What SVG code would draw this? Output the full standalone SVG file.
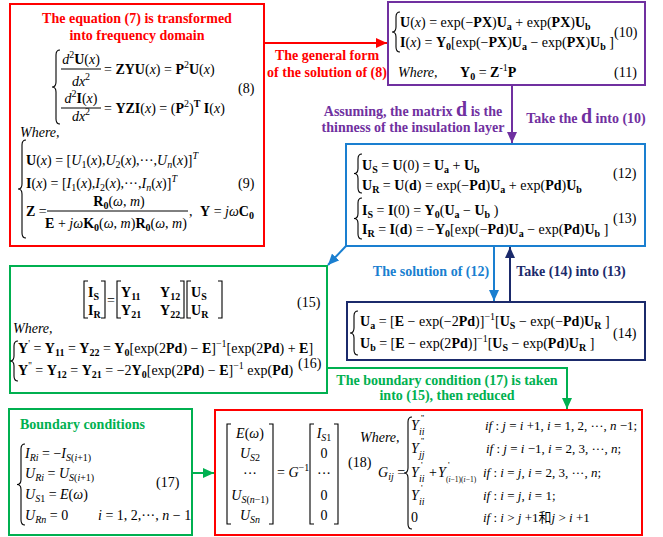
<svg xmlns="http://www.w3.org/2000/svg" width="663" height="537" viewBox="0 0 663 537">
<defs>
<style>
.t{font-family:"Liberation Serif","Times New Roman","Noto Sans CJK SC",serif;font-size:14px;fill:#000}
.c{font-size:13px}
.b{font-weight:bold}
.i{font-style:italic}
.s{font-size:10px}
.sp{font-size:9px}
.ss{font-size:7.5px}
.lb{font-family:"Liberation Serif","Times New Roman",serif;font-size:14px;font-weight:bold}
.big{font-size:20px}
.box{fill:#fff;stroke-width:2}
.dl{fill:none;stroke:#000;stroke-width:1.1}
.fr{stroke:#000;stroke-width:1}
.conn{fill:none;stroke-width:2}
</style>
<marker id="aR" markerUnits="userSpaceOnUse" markerWidth="12" markerHeight="10" refX="11" refY="5" orient="auto"><path d="M0,0 L11,5 L0,10 z" fill="#FF0000"/></marker>
<marker id="aP" markerUnits="userSpaceOnUse" markerWidth="12" markerHeight="10" refX="11" refY="5" orient="auto"><path d="M0,0 L11,5 L0,10 z" fill="#7030A0"/></marker>
<marker id="aB" markerUnits="userSpaceOnUse" markerWidth="12" markerHeight="10" refX="11" refY="5" orient="auto"><path d="M0,0 L11,5 L0,10 z" fill="#1a7fd0"/></marker>
<marker id="aN" markerUnits="userSpaceOnUse" markerWidth="12" markerHeight="10" refX="11" refY="5" orient="auto"><path d="M0,0 L11,5 L0,10 z" fill="#1B2A6B"/></marker>
<marker id="aG" markerUnits="userSpaceOnUse" markerWidth="12" markerHeight="10" refX="11" refY="5" orient="auto"><path d="M0,0 L11,5 L0,10 z" fill="#00B050"/></marker>
</defs>
<rect x="0" y="0" width="663" height="537" fill="#fff"/>

<g id="n1">
<rect class="box" x="10" y="4" width="254" height="242" stroke="#FF0000"/>
<text class="lb" x="137" y="23" text-anchor="middle" fill="#FF0000">The equation (7) is transformed</text>
<text class="lb" x="137" y="40" text-anchor="middle" fill="#FF0000">into frequency domain</text>
<path class="dl" d="M60,50 Q56,50 56,55 L56,82 Q56,87 52,87 Q56,87 56,92 L56,119 Q56,124 60,124"/>
<text class="t" x="81" y="64" text-anchor="middle"><tspan class="i">d</tspan><tspan class="s" dy="-6">2</tspan><tspan class="b" dy="6">U</tspan>(<tspan class="i">x</tspan>)</text>
<line class="fr" x1="61" y1="69" x2="101" y2="69"/>
<text class="t" x="81" y="86" text-anchor="middle"><tspan class="i">dx</tspan><tspan class="s" dy="-6">2</tspan></text>
<text class="t" x="104" y="74">= <tspan class="b">ZYU</tspan>(<tspan class="i">x</tspan>) = <tspan class="b">P</tspan><tspan class="s" dy="-6">2</tspan><tspan class="b" dy="6">U</tspan>(<tspan class="i">x</tspan>)</text>
<text class="t" x="81" y="103" text-anchor="middle"><tspan class="i">d</tspan><tspan class="s" dy="-6">2</tspan><tspan class="b" dy="6">I</tspan>(<tspan class="i">x</tspan>)</text>
<line class="fr" x1="61" y1="108" x2="101" y2="108"/>
<text class="t" x="81" y="121" text-anchor="middle"><tspan class="i">dx</tspan><tspan class="s" dy="-6">2</tspan></text>
<text class="t" x="104" y="113">= <tspan class="b">YZI</tspan>(<tspan class="i">x</tspan>) = (<tspan class="b">P</tspan><tspan class="s" dy="-6">2</tspan><tspan dy="6">)</tspan><tspan class="s b" dy="-6">T</tspan><tspan class="b" dy="6"> I</tspan>(<tspan class="i">x</tspan>)</text>
<text class="t" x="238" y="93">(8)</text>
<text class="t i" x="20" y="137">Where,</text>
<path class="dl" d="M26,140 Q22,140 22,145 L22,184 Q22,189 18,189 Q22,189 22,194 L22,233 Q22,238 26,238"/>
<text class="t" x="26" y="165"><tspan class="b">U</tspan>(<tspan class="i">x</tspan>) = [<tspan class="i">U</tspan><tspan class="s" dy="3">1</tspan><tspan dy="-3">(</tspan><tspan class="i">x</tspan>),<tspan class="i">U</tspan><tspan class="s" dy="3">2</tspan><tspan dy="-3">(</tspan><tspan class="i">x</tspan>),···,<tspan class="i">U</tspan><tspan class="s i" dy="3">n</tspan><tspan dy="-3">(</tspan><tspan class="i">x</tspan>)]<tspan class="s i" dy="-6">T</tspan></text>
<text class="t" x="26" y="188"><tspan class="b">I</tspan>(<tspan class="i">x</tspan>) = [<tspan class="i">I</tspan><tspan class="s" dy="3">1</tspan><tspan dy="-3">(</tspan><tspan class="i">x</tspan>),<tspan class="i">I</tspan><tspan class="s" dy="3">2</tspan><tspan dy="-3">(</tspan><tspan class="i">x</tspan>),···,<tspan class="i">I</tspan><tspan class="s i" dy="3">n</tspan><tspan dy="-3">(</tspan><tspan class="i">x</tspan>)]<tspan class="s i" dy="-6">T</tspan></text>
<text class="t" x="238" y="188">(9)</text>
<text class="t" x="26" y="216"><tspan class="b">Z</tspan> =</text>
<text class="t" x="119" y="206" text-anchor="middle"><tspan class="b">R</tspan><tspan class="s b" dy="3">0</tspan><tspan dy="-3">(</tspan><tspan class="i">ω</tspan>, <tspan class="i">m</tspan>)</text>
<line class="fr" x1="47" y1="211" x2="188" y2="211"/>
<text class="t" x="116" y="228" text-anchor="middle"><tspan class="b">E</tspan> + <tspan class="i">jω</tspan><tspan class="b">K</tspan><tspan class="s b" dy="3">0</tspan><tspan dy="-3">(</tspan><tspan class="i">ω</tspan>, <tspan class="i">m</tspan>)<tspan class="b">R</tspan><tspan class="s b" dy="3">0</tspan><tspan dy="-3">(</tspan><tspan class="i">ω</tspan>, <tspan class="i">m</tspan>)</text>
<text class="t" x="189" y="216">,</text>
<text class="t" x="200" y="216"><tspan class="b">Y</tspan>  =  <tspan class="i">jω</tspan><tspan class="b">C</tspan><tspan class="s b" dy="3">0</tspan></text>
</g>

<g id="n2">
<rect class="box" x="388" y="2" width="257" height="83" stroke="#7030A0"/>
<path class="dl" d="M400,12 Q396,12 396,17 L396,27 Q396,32 392,32 Q396,32 396,37 L396,47 Q396,52 400,52"/>
<text class="t" x="400" y="27"><tspan class="b">U</tspan>(<tspan class="i">x</tspan>) = exp(−<tspan class="b">PX</tspan>)<tspan class="b">U</tspan><tspan class="s b" dy="3">a</tspan><tspan dy="-3"> + exp(</tspan><tspan class="b">PX</tspan>)<tspan class="b">U</tspan><tspan class="s b" dy="3">b</tspan></text>
<text class="t" x="400" y="47"><tspan class="b">I</tspan>(<tspan class="i">x</tspan>) = <tspan class="b">Y</tspan><tspan class="s b" dy="3">0</tspan><tspan dy="-3">[exp(−</tspan><tspan class="b">PX</tspan>)<tspan class="b">U</tspan><tspan class="s b" dy="3">a</tspan><tspan dy="-3"> − exp(</tspan><tspan class="b">PX</tspan>)<tspan class="b">U</tspan><tspan class="s b" dy="3">b</tspan><tspan dy="-3"> ]</tspan></text>
<text class="t" x="614" y="37">(10)</text>
<text class="t i" x="398" y="77">Where,</text>
<text class="t" x="460" y="77"><tspan class="b">Y</tspan><tspan class="s b" dy="3">0</tspan><tspan dy="-3"> = </tspan><tspan class="b">Z</tspan><tspan class="s" dy="-6">-1</tspan><tspan class="b" dy="6">P</tspan></text>
<text class="t" x="614" y="77">(11)</text>
</g>

<g id="n3">
<rect class="box" x="346" y="144" width="299" height="102" stroke="#1a7fd0"/>
<path class="dl" d="M362,154 Q358,154 358,159 L358,168.5 Q358,173.5 354,173.5 Q358,173.5 358,178.5 L358,188 Q358,193 362,193"/>
<path class="dl" d="M362,198 Q358,198 358,203 L358,213.5 Q358,218.5 354,218.5 Q358,218.5 358,223.5 L358,234 Q358,239 362,239"/>
<text class="t" x="362" y="170"><tspan class="b">U</tspan><tspan class="s b" dy="3">S</tspan><tspan dy="-3"> = </tspan><tspan class="b">U</tspan>(0) = <tspan class="b">U</tspan><tspan class="s b" dy="3">a</tspan><tspan dy="-3"> + </tspan><tspan class="b">U</tspan><tspan class="s b" dy="3">b</tspan></text>
<text class="t" x="362" y="190"><tspan class="b">U</tspan><tspan class="s b" dy="3">R</tspan><tspan dy="-3"> = </tspan><tspan class="b">U</tspan>(<tspan class="b">d</tspan>) = exp(−<tspan class="b">Pd</tspan>)<tspan class="b">U</tspan><tspan class="s b" dy="3">a</tspan><tspan dy="-3"> + exp(</tspan><tspan class="b">Pd</tspan>)<tspan class="b">U</tspan><tspan class="s b" dy="3">b</tspan></text>
<text class="t" x="613" y="178">(12)</text>
<text class="t" x="362" y="215"><tspan class="b">I</tspan><tspan class="s b" dy="3">S</tspan><tspan dy="-3"> = </tspan><tspan class="b">I</tspan>(0) = <tspan class="b">Y</tspan><tspan class="s b" dy="3">0</tspan><tspan dy="-3">(</tspan><tspan class="b">U</tspan><tspan class="s b" dy="3">a</tspan><tspan dy="-3"> − </tspan><tspan class="b">U</tspan><tspan class="s b" dy="3">b</tspan><tspan dy="-3"> )</tspan></text>
<text class="t" x="362" y="234"><tspan class="b">I</tspan><tspan class="s b" dy="3">R</tspan><tspan dy="-3"> = </tspan><tspan class="b">I</tspan>(<tspan class="b">d</tspan>) = −<tspan class="b">Y</tspan><tspan class="s b" dy="3">0</tspan><tspan dy="-3">[exp(−</tspan><tspan class="b">Pd</tspan>)<tspan class="b">U</tspan><tspan class="s b" dy="3">a</tspan><tspan dy="-3"> − exp(</tspan><tspan class="b">Pd</tspan>)<tspan class="b">U</tspan><tspan class="s b" dy="3">b</tspan><tspan dy="-3"> ]</tspan></text>
<text class="t" x="613" y="223">(13)</text>
</g>

<g id="n4">
<rect class="box" x="347" y="302" width="298" height="58" stroke="#1B2A6B"/>
<path class="dl" d="M358,311 Q354,311 354,316 L354,328 Q354,333 350,333 Q354,333 354,338 L354,350 Q354,355 358,355"/>
<text class="t" x="360" y="326"><tspan class="b">U</tspan><tspan class="s b" dy="3">a</tspan><tspan dy="-3"> = [</tspan><tspan class="b">E</tspan> − exp(−2<tspan class="b">Pd</tspan>)]<tspan class="s" dy="-6">−1</tspan><tspan dy="6">[</tspan><tspan class="b">U</tspan><tspan class="s b" dy="3">S</tspan><tspan dy="-3"> − exp(−</tspan><tspan class="b">Pd</tspan>)<tspan class="b">U</tspan><tspan class="s b" dy="3">R</tspan><tspan dy="-3"> ]</tspan></text>
<text class="t" x="360" y="348"><tspan class="b">U</tspan><tspan class="s b" dy="3">b</tspan><tspan dy="-3"> = [</tspan><tspan class="b">E</tspan> − exp(2<tspan class="b">Pd</tspan>)]<tspan class="s" dy="-6">−1</tspan><tspan dy="6">[</tspan><tspan class="b">U</tspan><tspan class="s b" dy="3">S</tspan><tspan dy="-3"> − exp(</tspan><tspan class="b">Pd</tspan>)<tspan class="b">U</tspan><tspan class="s b" dy="3">R</tspan><tspan dy="-3"> ]</tspan></text>
<text class="t" x="613" y="338">(14)</text>
</g>

<g id="n5">
<rect class="box" x="10" y="266" width="317" height="127" stroke="#00B050"/>
<path class="dl" d="M88,281 L84,281 L84,318 L88,318 M101,281 L105,281 L105,318 L101,318"/>
<path class="dl" d="M121,281 L117,281 L117,318 L121,318 M180,281 L184,281 L184,318 L180,318"/>
<path class="dl" d="M191,281 L187,281 L187,318 L191,318 M218,281 L222,281 L222,318 L218,318"/>
<text class="t" x="88" y="297"><tspan class="b">I</tspan><tspan class="s b" dy="3">S</tspan></text>
<text class="t" x="88" y="315"><tspan class="b">I</tspan><tspan class="s b" dy="3">R</tspan></text>
<text class="t" x="107" y="305">=</text>
<text class="t" x="121" y="297"><tspan class="b">Y</tspan><tspan class="s b" dy="3">11</tspan></text>
<text class="t" x="160" y="297"><tspan class="b">Y</tspan><tspan class="s b" dy="3">12</tspan></text>
<text class="t" x="121" y="315"><tspan class="b">Y</tspan><tspan class="s b" dy="3">21</tspan></text>
<text class="t" x="160" y="315"><tspan class="b">Y</tspan><tspan class="s b" dy="3">22</tspan></text>
<text class="t" x="191" y="297"><tspan class="b">U</tspan><tspan class="s b" dy="3">S</tspan></text>
<text class="t" x="191" y="315"><tspan class="b">U</tspan><tspan class="s b" dy="3">R</tspan></text>
<text class="t" x="297" y="307">(15)</text>
<text class="t i" x="13" y="333">Where,</text>
<path class="dl" d="M18,341 Q14,341 14,346 L14,356 Q14,361 10,361 Q14,361 14,366 L14,376 Q14,381 18,381"/>
<text class="t" x="18" y="353"><tspan class="b">Y</tspan><tspan class="s" dy="-6">'</tspan><tspan dy="6"> = </tspan><tspan class="b">Y</tspan><tspan class="s b" dy="3">11</tspan><tspan dy="-3"> = </tspan><tspan class="b">Y</tspan><tspan class="s b" dy="3">22</tspan><tspan dy="-3"> = </tspan><tspan class="b">Y</tspan><tspan class="s b" dy="3">0</tspan><tspan dy="-3">[exp(2</tspan><tspan class="b">Pd</tspan>) − <tspan class="b">E</tspan>]<tspan class="s" dy="-6">−1</tspan><tspan dy="6">[exp(2</tspan><tspan class="b">Pd</tspan>) + <tspan class="b">E</tspan>]</text>
<text class="t" x="18" y="375"><tspan class="b">Y</tspan><tspan class="s" dy="-6">''</tspan><tspan dy="6"> = </tspan><tspan class="b">Y</tspan><tspan class="s b" dy="3">12</tspan><tspan dy="-3"> = </tspan><tspan class="b">Y</tspan><tspan class="s b" dy="3">21</tspan><tspan dy="-3"> = −2</tspan><tspan class="b">Y</tspan><tspan class="s b" dy="3">0</tspan><tspan dy="-3">[exp(2</tspan><tspan class="b">Pd</tspan>) − <tspan class="b">E</tspan>]<tspan class="s" dy="-6">−1</tspan><tspan dy="6"> exp(</tspan><tspan class="b">Pd</tspan>)</text>
<text class="t" x="298" y="368">(16)</text>
</g>

<g id="n6">
<rect class="box" x="9" y="409" width="183" height="126" stroke="#00B050"/>
<text class="lb" x="20" y="429" fill="#00B050">Boundary conditions</text>
<path class="dl" d="M25,444 Q21,444 21,449 L21,479.5 Q21,484.5 17,484.5 Q21,484.5 21,489.5 L21,520 Q21,525 25,525"/>
<text class="t" x="25" y="458"><tspan class="i">I</tspan><tspan class="s i" dy="3">Ri</tspan><tspan dy="-3"> = −</tspan><tspan class="i">I</tspan><tspan class="s" dy="3"><tspan class="i">S</tspan>(<tspan class="i">i</tspan>+1)</tspan></text>
<text class="t" x="25" y="478"><tspan class="i">U</tspan><tspan class="s i" dy="3">Ri</tspan><tspan dy="-3"> = </tspan><tspan class="i">U</tspan><tspan class="s" dy="3"><tspan class="i">S</tspan>(<tspan class="i">i</tspan>+1)</tspan></text>
<text class="t" x="25" y="499"><tspan class="i">U</tspan><tspan class="s" dy="3"><tspan class="i">S</tspan>1</tspan><tspan dy="-3"> = </tspan><tspan class="i">E</tspan>(<tspan class="i">ω</tspan>)</text>
<text class="t" x="25" y="520"><tspan class="i">U</tspan><tspan class="s i" dy="3">Rn</tspan><tspan dy="-3"> = 0</tspan></text>
<text class="t" x="98" y="520"><tspan class="i">i</tspan> = 1, 2,···, <tspan class="i">n</tspan> − 1</text>
<text class="t" x="156" y="487">(17)</text>
</g>

<g id="n7">
<rect class="box" x="215" y="410" width="427" height="125" stroke="#FF0000"/>
<path class="dl" d="M231,424 L227,424 L227,524 L231,524 M269,424 L273,424 L273,524 L269,524"/>
<path class="dl" d="M314,424 L310,424 L310,524 L314,524 M334,424 L338,424 L338,524 L334,524"/>
<text class="t" x="250" y="438" text-anchor="middle"><tspan class="i">E</tspan>(<tspan class="i">ω</tspan>)</text>
<text class="t" x="250" y="458" text-anchor="middle"><tspan class="i">U</tspan><tspan class="s" dy="3"><tspan class="i">S</tspan>2</tspan></text>
<text class="t" x="250" y="478" text-anchor="middle">···</text>
<text class="t" x="250" y="500" text-anchor="middle"><tspan class="i">U</tspan><tspan class="s" dy="3"><tspan class="i">S</tspan>(<tspan class="i">n</tspan>−1)</tspan></text>
<text class="t" x="250" y="520" text-anchor="middle"><tspan class="i">U</tspan><tspan class="s" dy="3"><tspan class="i">Sn</tspan></tspan></text>
<text class="t" x="277" y="477">= <tspan class="i">G</tspan><tspan class="s" dy="-6">−1</tspan></text>
<text class="t" x="324" y="438" text-anchor="middle"><tspan class="i">I</tspan><tspan class="s" dy="3"><tspan class="i">S</tspan>1</tspan></text>
<text class="t" x="324" y="458" text-anchor="middle">0</text>
<text class="t" x="324" y="478" text-anchor="middle">···</text>
<text class="t" x="324" y="500" text-anchor="middle">0</text>
<text class="t" x="324" y="520" text-anchor="middle">0</text>
<text class="t" x="348" y="467">(18)</text>
<text class="t i" x="360" y="442">Where,</text>
<text class="t" x="378" y="477"><tspan class="i">G</tspan><tspan class="s i" dy="3">ij</tspan><tspan dy="-3"> =</tspan></text>
<path class="dl" d="M412,417 Q408,417 408,422 L408,468 Q408,473 404,473 Q408,473 408,478 L408,524 Q408,529 412,529"/>
<text class="t i" x="411" y="430">Y</text><text class="t sp" x="421" y="421">''</text><text class="t s i" x="419" y="435">ii</text>
<text class="t i" x="411" y="453">Y</text><text class="t sp" x="421" y="444">''</text><text class="t s i" x="419" y="458">jj</text>
<text class="t i" x="411" y="477">Y</text><text class="t sp" x="421" y="468">'</text><text class="t s i" x="419" y="482">ii</text>
<text class="t" x="429" y="477">+</text>
<text class="t i" x="438" y="477">Y</text><text class="t sp" x="448" y="468">'</text><text class="t ss" x="446" y="482">(<tspan class="i">i</tspan>−1)(<tspan class="i">i</tspan>−1)</text>
<text class="t i" x="411" y="500">Y</text><text class="t sp" x="421" y="491">'</text><text class="t s i" x="419" y="505">ii</text>
<text class="t" x="411" y="522">0</text>
<text class="t c" x="485" y="430"><tspan class="i">if</tspan> : <tspan class="i">j</tspan> = <tspan class="i">i</tspan> +1, <tspan class="i">i</tspan> = 1, 2, ···, <tspan class="i">n</tspan> −1;</text>
<text class="t c" x="486" y="453"><tspan class="i">if</tspan> : <tspan class="i">j</tspan> = <tspan class="i">i</tspan> −1, <tspan class="i">i</tspan> = 2, 3, ···, <tspan class="i">n</tspan>;</text>
<text class="t c" x="483" y="477"><tspan class="i">if</tspan> : <tspan class="i">i</tspan> = <tspan class="i">j</tspan>, <tspan class="i">i</tspan> = 2, 3, ···, <tspan class="i">n</tspan>;</text>
<text class="t c" x="483" y="500"><tspan class="i">if</tspan> : <tspan class="i">i</tspan> = <tspan class="i">j</tspan>, <tspan class="i">i</tspan> = 1;</text>
<text class="t c" x="483" y="522"><tspan class="i">if</tspan> : <tspan class="i">i</tspan> &gt; <tspan class="i">j</tspan> +1和<tspan class="i">j</tspan> &gt; <tspan class="i">i</tspan> +1</text>
</g>

<g id="connectors" class="conn">
<path d="M264,43 H387" stroke="#FF0000" marker-end="url(#aR)"/>
<path d="M512,85 V143" stroke="#7030A0" marker-end="url(#aP)"/>
<path d="M346,246 L328,265" stroke="#1a7fd0" marker-end="url(#aB)"/>
<path d="M494,246 V301" stroke="#1a7fd0" marker-end="url(#aB)"/>
<path d="M510,302 V247" stroke="#1B2A6B" marker-end="url(#aN)"/>
<path d="M327,368 H567 V409" stroke="#00B050" marker-end="url(#aG)"/>
<path d="M192,473 H214" stroke="#00B050" marker-end="url(#aG)"/>
</g>

<g id="labels">
<text class="lb" fill="#FF0000" x="327" y="60" text-anchor="middle">The general form</text>
<text class="lb" fill="#FF0000" x="327" y="77" text-anchor="middle">of the solution of (8)</text>
<text class="lb" fill="#7030A0" x="413" y="116" text-anchor="middle">Assuming, the matrix <tspan class="big">d</tspan> is the</text>
<text class="lb" fill="#7030A0" x="413" y="132" text-anchor="middle">thinness of the insulation layer</text>
<text class="lb" fill="#7030A0" x="586" y="123" text-anchor="middle">Take the <tspan class="big">d</tspan> into (10)</text>
<text class="lb" fill="#1a7fd0" x="431" y="276" text-anchor="middle">The solution of (12)</text>
<text class="lb" fill="#1B2A6B" x="571" y="276" text-anchor="middle">Take (14) into (13)</text>
<text class="lb" fill="#00B050" x="447" y="385" text-anchor="middle">The boundary condition (17) is taken</text>
<text class="lb" fill="#00B050" x="447" y="400" text-anchor="middle">into (15), then reduced</text>
</g>
</svg>
